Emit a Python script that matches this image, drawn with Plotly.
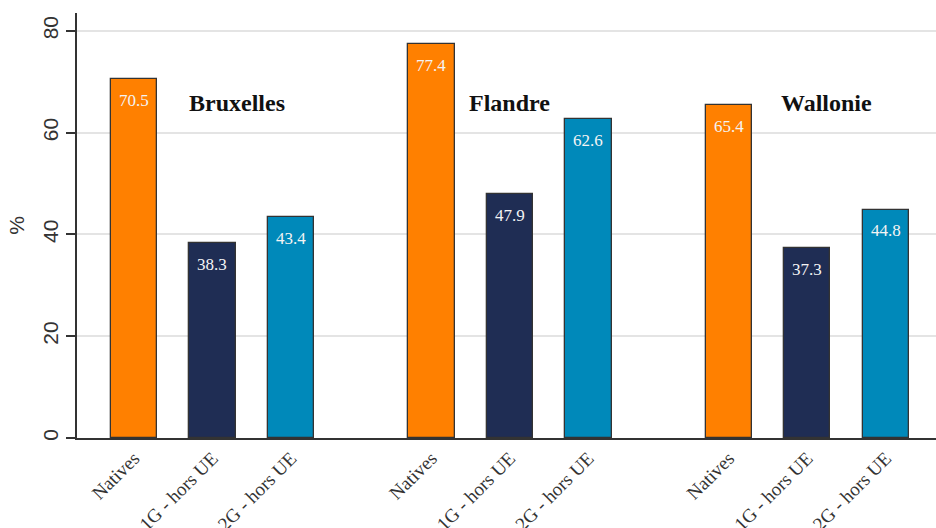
import plotly.graph_objects as go

# Employment rates by region and origin group
regions = ["Bruxelles", "Flandre", "Wallonie"]
groups = ["Natives", "1G - hors UE", "2G - hors UE"]
values = {
    "Bruxelles": [70.5, 38.3, 43.4],
    "Flandre": [77.4, 47.9, 62.6],
    "Wallonie": [65.4, 37.3, 44.8],
}
bar_colors = ["#FF8000", "#1F2D54", "#0089BA"]
y_ticks = [0, 20, 40, 60, 80]

GROUP_STEP = 3.79   # distance between region clusters, in bar slots
BAR_WIDTH = 0.59
SERIF = "Liberation Serif, Times New Roman, serif"
SANS = "Liberation Sans, Arial, sans-serif"

fig = go.Figure()
tickvals, ticktext = [], []
annotations = []
title_offsets = [1.31, 0.99, 1.24]

for r_i, region in enumerate(regions):
    xs = [r_i * GROUP_STEP + g_i for g_i in range(len(groups))]
    vals = values[region]
    fig.add_trace(go.Bar(
        x=xs, y=vals, width=BAR_WIDTH,
        marker=dict(color=bar_colors, line=dict(color="#333333", width=1.3)),
        showlegend=False, hoverinfo="skip",
    ))
    tickvals += xs
    ticktext += groups
    for x, v in zip(xs, vals):
        annotations.append(dict(
            x=x, y=v, xref="x", yref="y", text=f"{v:.1f}", showarrow=False,
            yanchor="middle", yshift=-21,
            font=dict(family=SERIF, size=17, color="#f4f4f4"),
        ))
    annotations.append(dict(
        x=r_i * GROUP_STEP + title_offsets[r_i], y=65.8, xref="x", yref="y",
        text=f"<b>{region}</b>", showarrow=False, yanchor="middle",
        font=dict(family=SERIF, size=24, color="#111111"),
    ))

fig.update_layout(
    width=936, height=528,
    margin=dict(l=77, r=0, t=13, b=90),
    plot_bgcolor="white", paper_bgcolor="white",
    bargap=0, annotations=annotations,
    xaxis=dict(
        range=[-0.726, 10.22], tickvals=tickvals, ticktext=ticktext,
        tickangle=-45, showgrid=False, zeroline=False, automargin=False,
        showline=True, linecolor="#333333", linewidth=1.5,
        ticks="", tickfont=dict(family=SERIF, size=19, color="#333333"),
    ),
    yaxis=dict(
        range=[0, 83.5], tickvals=y_ticks, ticktext=[str(t) for t in y_ticks],
        tickangle=-90, showgrid=True, gridcolor="#e4e4e4", gridwidth=1.5,
        zeroline=False, showline=True, linecolor="#333333", linewidth=1.5,
        automargin=False,
        ticks="outside", ticklen=9, tickwidth=1.5, tickcolor="#333333",
        tickfont=dict(family=SANS, size=21, color="#333333"),
        title=dict(text="%", font=dict(family=SANS, size=21, color="#333333"), standoff=8),
    ),
)

fig.write_html("out.html")
